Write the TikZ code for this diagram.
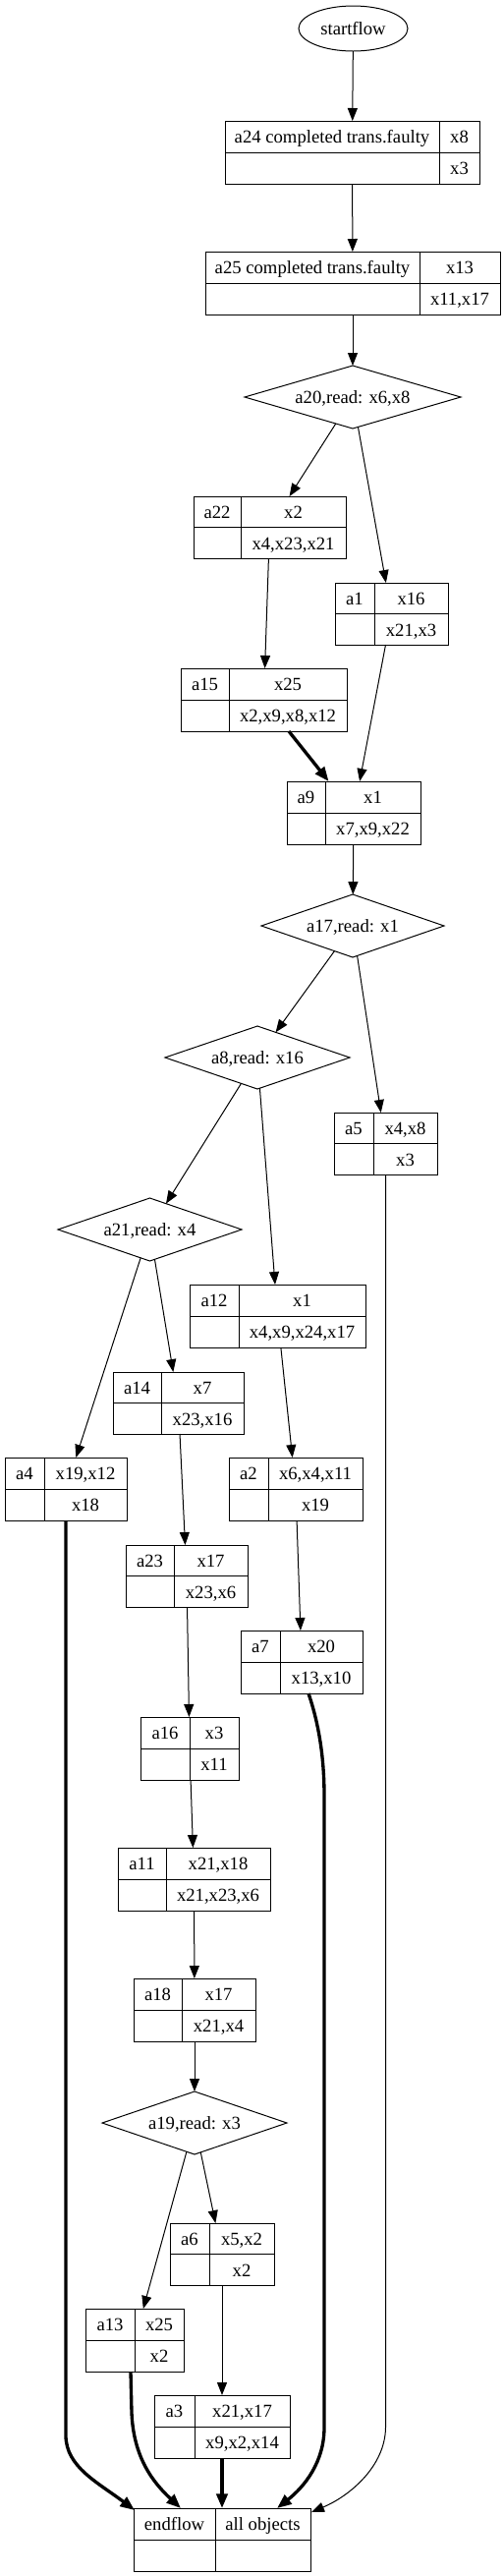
\documentclass[tikz,border=0pt]{standalone}
\usepackage{fontspec}
\setmainfont{Liberation Serif}
\usetikzlibrary{shapes.geometric,arrows.meta,fit,calc}
\tikzset{
  recbox/.style={draw,line width=0.75pt,inner sep=0pt,outer sep=0pt},
  recline/.style={line width=0.75pt},
  txt/.style={font=\fontsize{14}{16}\selectfont,inner sep=0pt,text height=10.2pt,text depth=0pt},
  dia/.style={diamond,draw,line width=0.75pt,aspect=3,txt,minimum height=48pt,outer sep=0pt},
  thinedge/.style={line width=0.75pt,-{Triangle[length=9.75pt,width=7.5pt]}},
  thickedge/.style={line width=2.5pt,-{Triangle[length=11pt,width=8.5pt]}},
}
\newcommand\mkrec[9]{%
  \node[recbox, fit={(#2,#3) (#4,#5)}] (#1) {};
  \draw[recline] (#6,#3) -- (#6,#5);
  \draw[recline] (#1.west) -- (#1.east);
  \node[txt] (#1-tl) at ({(#2+#6)/2},{#3+(#5-#3)/4}) {#7};
  \node[txt] (#1-tr) at ({(#6+#4)/2},{#3+(#5-#3)/4}) {#8};
  \node[txt] (#1-br) at ({(#6+#4)/2},{#3+3*(#5-#3)/4}) {#9};
}
\begin{document}
\begin{tikzpicture}[x=0.75pt,y=-0.75pt]
\useasboundingbox (0,0) rectangle (513,2621);
\node[ellipse,draw,line width=0.75pt,txt,minimum width=83.25pt,minimum height=34.5pt,outer sep=0pt] (start) at (359.5,29) {startflow};
\mkrec{a24}{229}{123}{488}{187}{447}{a24 completed trans.faulty}{x8}{x3}
\mkrec{a25}{209}{256}{509}{320}{427}{a25 completed trans.faulty}{x13}{x11,x17}
\node[dia,minimum width=165pt] (a20) at (359,404) {a20,read: x6,x8};
\mkrec{a22}{197}{505}{352}{568}{245}{a22}{x2}{x4,x23,x21}
\mkrec{a1}{341}{593}{456}{656}{381}{a1}{x16}{x21,x3}
\mkrec{a15}{184}{680}{353}{744}{233}{a15}{x25}{x2,x9,x8,x12}
\mkrec{a9}{292}{795}{428}{859}{331}{a9}{x1}{x7,x9,x22}
\node[dia,minimum width=139.5pt] (a17) at (359,942) {a17,read: x1};
\node[dia,minimum width=141pt] (a8) at (262,1076) {a8,read: x16};
\mkrec{a5}{340}{1132}{445}{1195}{380}{a5}{x4,x8}{x3}
\node[dia,minimum width=140.25pt] (a21) at (152.5,1251) {a21,read: x4};
\mkrec{a12}{193}{1307}{372}{1371}{243}{a12}{x1}{x4,x9,x24,x17}
\mkrec{a14}{115}{1396}{248}{1459}{164}{a14}{x7}{x23,x16}
\mkrec{a4}{5}{1483}{129}{1547}{45}{a4}{x19,x12}{x18}
\mkrec{a2}{233}{1483}{369}{1547}{273}{a2}{x6,x4,x11}{x19}
\mkrec{a23}{128}{1572}{252}{1635}{177}{a23}{x17}{x23,x6}
\mkrec{a7}{245}{1659}{369}{1723}{285}{a7}{x20}{x13,x10}
\mkrec{a16}{143}{1747}{243}{1811}{193}{a16}{x3}{x11}
\mkrec{a11}{120}{1880}{275}{1944}{169}{a11}{x21,x18}{x21,x23,x6}
\mkrec{a18}{136}{2013}{260}{2077}{185}{a18}{x17}{x21,x4}
\node[dia,minimum width=141pt] (a19) at (198,2160) {a19,read: x3};
\mkrec{a6}{173}{2262}{279}{2325}{213}{a6}{x5,x2}{x2}
\mkrec{a13}{87}{2349}{187}{2413}{137}{a13}{x25}{x2}
\mkrec{a3}{157}{2437}{295}{2501}{198}{a3}{x21,x17}{x9,x2,x14}
\mkrec{endflow}{136}{2552}{316}{2616}{219}{endflow}{all objects}{}
% connectors
\draw[thinedge] (start) -- (a24);
\draw[thinedge] (a24) -- (a25);
\draw[thinedge] (a25) -- (a20);
\draw[thinedge] (a20) -- (a22);
\draw[thinedge] (a20) -- (a1);
\draw[thinedge] (a22) -- (a15);
\draw[thickedge] (a15) -- (a9);
\draw[thinedge] (a1) -- (a9);
\draw[thinedge] (a9) -- (a17);
\draw[thinedge] (a17) -- (a8);
\draw[thinedge] (a17) -- (a5);
\draw[thinedge] (a8) -- (a21);
\draw[thinedge] (a8) -- (a12);
\draw[thinedge] (a21) -- (a4);
\draw[thinedge] (a21) -- (a14);
\draw[thinedge] (a12) -- (a2);
\draw[thinedge] (a14) -- (a23);
\draw[thinedge] (a2) -- (a7);
\draw[thinedge] (a23) -- (a16);
\draw[thinedge] (a16) -- (a11);
\draw[thinedge] (a11) -- (a18);
\draw[thinedge] (a18) -- (a19);
\draw[thinedge] (a19) -- (a13);
\draw[thinedge] (a19) -- (a6);
\draw[thinedge] (a6) -- (a3);
\draw[thickedge] (a3) -- (endflow);
\draw[thickedge] (a4.south) -- (67,2478) .. controls (67,2510) and (100,2526) .. ($(endflow.north west)+(1,2)$);
\draw[thickedge] ($(a13.south)+(-4,0)$) -- (134,2455) .. controls (136,2500) and (155,2525) .. ($(endflow.north)+(-42,0)$);
\draw[thickedge] ($(a7.south)+(7,0)$) .. controls (325,1755) and (330,1790) .. (330,1827) -- (330,2470) .. controls (330,2505) and (310,2530) .. ($(endflow.north)+(56,0)$);
\draw[thinedge] (a5.south) -- (392.5,2470) .. controls (392,2510) and (355,2540) .. ($(endflow.north east)+(1,4)$);
\end{tikzpicture}
\end{document}
